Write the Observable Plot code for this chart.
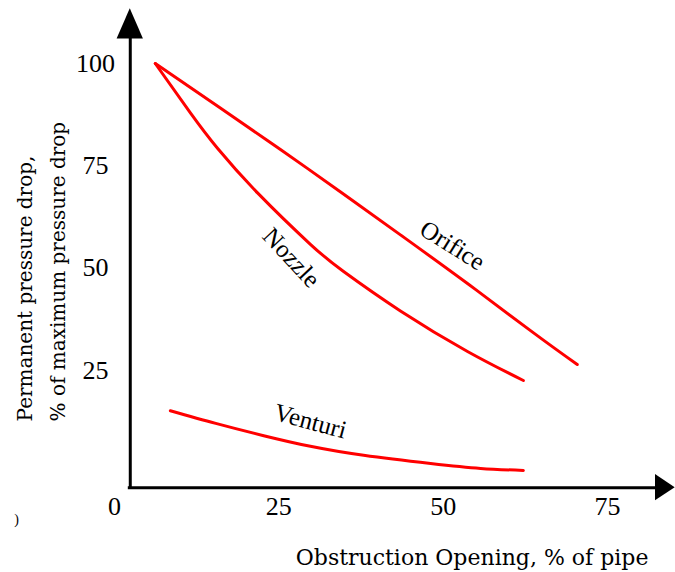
<!DOCTYPE html>
<html>
<head>
<meta charset="utf-8">
<script src="https://cdn.jsdelivr.net/npm/d3@7"></script>
<script src="https://cdn.jsdelivr.net/npm/@observablehq/plot@0.6"></script>
<style>
  html, body { margin: 0; padding: 0; background: #fff; }
</style>
</head>
<body>
<div id="chart"></div>
<script>
// ---- data ----
const xTicks = [0, 25, 50, 75];
const yTicks = [25, 50, 75, 100];

const orificeX = [6.2, 16.1, 25.3, 34.4, 43.5, 53.7, 63.7, 70.4];
const orificeY = [100, 89.1, 78.9, 68.6, 58.1, 46.2, 34.2, 26.4];

const nozzleX = [6.2, 11.6, 15.7, 21.8, 29.8, 34.8, 43.5, 53.7, 62.2];
const nozzleY = [100, 87.8, 79.2, 68.3, 55.8, 49.2, 39.5, 29.6, 22.5];

const venturiX = [8.5, 15.4, 22.7, 29.8, 37.9, 48.1, 55.7, 62.2];
const venturiY = [15.1, 12.0, 9.0, 6.4, 4.2, 2.2, 1.0, 0.5];

const seriesNames = ["Orifice", "Nozzle", "Venturi"];
const xTitle = "Obstruction Opening, % of pipe";
const yTitle = "Permanent pressure drop,\n% of maximum pressure drop";

// ---- build tables ----
const toRows = (xs, ys, name) => xs.map((x, i) => ({x, y: ys[i], name}));
const orifice = toRows(orificeX, orificeY, seriesNames[0]);
const nozzle = toRows(nozzleX, nozzleY, seriesNames[1]);
const venturi = toRows(venturiX, venturiY, seriesNames[2]);

// curve label anchors (data space) and angles
const labels = [
  {name: seriesNames[0], x: 51.4, y: 55.5, rotate: 32},
  {name: seriesNames[1], x: 26.9, y: 52.5, rotate: 47},
  {name: seriesNames[2], x: 29.8, y: 12.5, rotate: 15}
];

// schematic axes with arrowheads
const axisXpos = 2.4;     // where the vertical axis stands
const axisYpos = -3.7;    // where the horizontal axis lies
const yArrow = [
  {x: 0.4, y1: 106.0, y2: 106.0},
  {x: 2.4, y1: 106.0, y2: 113.4},
  {x: 4.4, y1: 106.0, y2: 106.0}
];
const xArrow = [
  {y: -6.9, x1: 82.3, x2: 82.3},
  {y: -3.7, x1: 82.3, x2: 85.3},
  {y: -0.5, x1: 82.3, x2: 82.3}
];

const chart = Plot.plot({
  width: 675,
  height: 572,
  marginLeft: 130,
  marginBottom: 85,
  marginTop: 0,
  marginRight: 0,
  style: {fontFamily: "Liberation Serif", fontSize: "26px", background: "#fff", color: "#000"},
  x: {domain: [0, 75], range: [114, 607], axis: null},
  y: {domain: [0, 100], range: [472, 63], axis: null},
  marks: [
    Plot.ruleX([axisXpos], {y1: axisYpos, y2: 106.5, stroke: "#000", strokeWidth: 3}),
    Plot.ruleY([axisYpos], {x1: 2.1, x2: 82.5, stroke: "#000", strokeWidth: 3}),
    Plot.areaY(yArrow, {x: "x", y1: "y1", y2: "y2", fill: "#000"}),
    Plot.areaX(xArrow, {y: "y", x1: "x1", x2: "x2", fill: "#000"}),
    Plot.axisX({ticks: xTicks, tickSize: 0, tickPadding: 9, fontSize: 26, fontFamily: "Liberation Serif", label: null}),
    Plot.axisY({ticks: yTicks, tickSize: 0, tickPadding: 35, textAnchor: "middle", fontSize: 26, fontFamily: "Liberation Serif", label: null}),
    Plot.line(orifice, {x: "x", y: "y", stroke: "#ff0000", strokeWidth: 3, curve: "natural"}),
    Plot.line(nozzle, {x: "x", y: "y", stroke: "#ff0000", strokeWidth: 3, curve: "natural"}),
    Plot.line(venturi, {x: "x", y: "y", stroke: "#ff0000", strokeWidth: 3, curve: "natural"}),
    Plot.text(labels, {x: "x", y: "y", text: "name", rotate: "rotate", fontSize: 25, fontFamily: "Liberation Serif", fill: "#000"}),
    Plot.text([xTitle], {x: 54.4, y: -20.8, text: d => d, fontSize: 22, fontFamily: "DejaVu Serif", fill: "#000"}),
    Plot.text([yTitle], {x: -11.6, y: 12.5, text: d => d, rotate: -90, textAnchor: "start", lineHeight: 1.65, fontSize: 20, fontFamily: "DejaVu Serif", fill: "#000"}),
    Plot.text([")"], {x: -14.9, y: -11.5, text: d => d, fontSize: 14, fontFamily: "Liberation Serif", fill: "#000"})
  ]
});

document.getElementById("chart").append(chart);
</script>
</body>
</html>
